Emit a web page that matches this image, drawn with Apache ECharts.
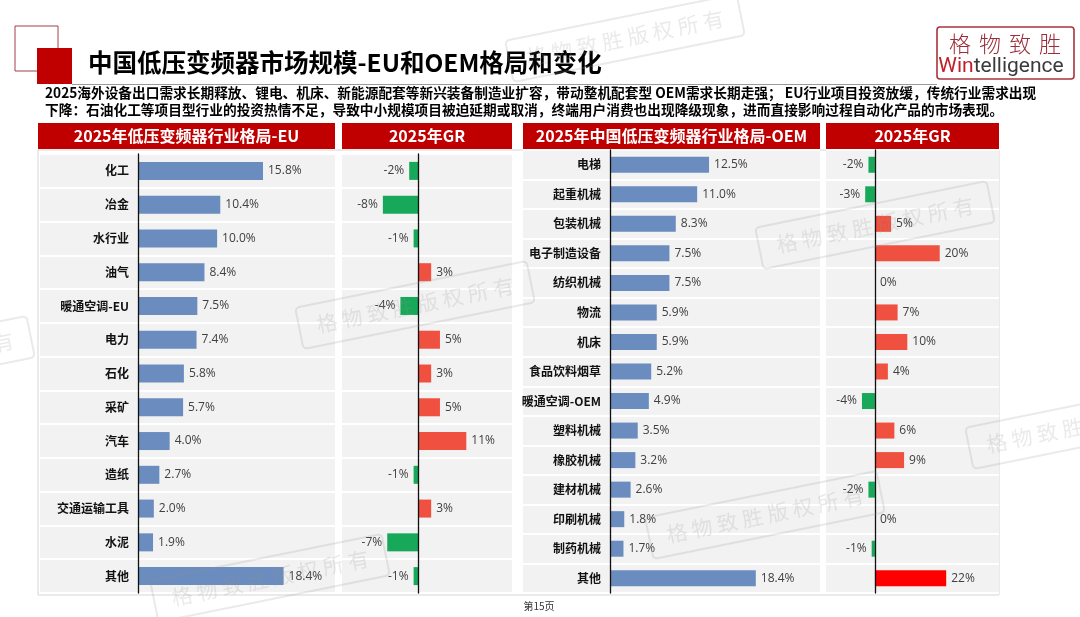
<!DOCTYPE html>
<html>
<head>
<meta charset="utf-8">
<script src="https://cdn.jsdelivr.net/npm/echarts@6/dist/echarts.min.js"></script>
<style>
html,body{margin:0;padding:0;background:#fff;}
#main{width:1080px;height:617px;}
</style>
</head>
<body>
<div id="main"></div>
<script>
// ---------- data ----------
const euCats = ['化工','冶金','水行业','油气','暖通空调-EU','电力','石化','采矿','汽车','造纸','交通运输工具','水泥','其他'];
const euShare = [15.8,10.4,10.0,8.4,7.5,7.4,5.8,5.7,4.0,2.7,2.0,1.9,18.4];
const euGR = [-2,-8,-1,3,-4,5,3,5,11,-1,3,-7,-1];

const oemCats = ['电梯','起重机械','包装机械','电子制造设备','纺织机械','物流','机床','食品饮料烟草','暖通空调-OEM','塑料机械','橡胶机械','建材机械','印刷机械','制药机械','其他'];
const oemShare = [12.5,11.0,8.3,7.5,7.5,5.9,5.9,5.2,4.9,3.5,3.2,2.6,1.8,1.7,18.4];
const oemGR = [-2,-3,5,20,0,7,10,4,-4,6,9,-2,0,-1,22];

const panelTitles = ['2025年低压变频器行业格局-EU','2025年GR','2025年中国低压变频器行业格局-OEM','2025年GR'];
const mainTitle = '中国低压变频器市场规模-EU和OEM格局和变化';
const subLines = [
  '2025海外设备出口需求长期释放、锂电、机床、新能源配套等新兴装备制造业扩容，带动整机配套型 OEM需求长期走强； EU行业项目投资放缓，传统行业需求出现',
  '下降：石油化工等项目型行业的投资热情不足，导致中小规模项目被迫延期或取消，终端用户消费也出现降级现象，进而直接影响过程自动化产品的市场表现。'
];
const pageNo = '第15页';
const watermark = '格 物 致 胜 版 权 所 有';

// ---------- styles ----------
const CJK = '"Noto Sans CJK SC","Noto Sans",sans-serif';
const NUM = '"Open Sans","Noto Sans",sans-serif';
const RED = '#C00000';
const BLUE = '#6A8CBE';
const UP = '#F0503F';
const DOWN = '#17A85A';
const HILITE = '#FF0000';

function bgCatAxis(gi, cats){
  return {
    gridIndex: gi, type: 'category', data: cats, inverse: true, z: 0,
    axisLine: {show: false}, axisTick: {show: false}, axisLabel: {show: false},
    splitArea: {show: true, interval: 0, areaStyle: {color: ['#F2F2F2']}},
    splitLine: {show: true, interval: 0, lineStyle: {color: '#FFFFFF', width: 2}}
  };
}
function dataCatAxis(gi, cats, showLabel, onZero){
  return {
    gridIndex: gi, type: 'category', data: cats, inverse: true, z: 3,
    axisLine: {show: true, onZero: onZero, lineStyle: {color: '#111', width: 1.3}},
    axisTick: {show: false},
    axisLabel: {show: showLabel, interval: 0, fontWeight: 'bold', fontSize: 12, color: '#111', margin: 9, fontFamily: CJK},
    splitArea: {show: false}, splitLine: {show: false}
  };
}
function valAxis(gi, min, max){
  return {gridIndex: gi, type: 'value', min: min, max: max, show: false};
}
const lblBase = {show: true, distance: 5, fontSize: 12, color: '#404040', fontFamily: NUM};

function shareSeries(idx, vals, bw){
  return {
    type: 'bar', xAxisIndex: idx, yAxisIndex: idx, barWidth: bw,
    data: vals, itemStyle: {color: BLUE},
    label: Object.assign({}, lblBase, {position: 'right', formatter: p => Number(p.value).toFixed(1) + '%'})
  };
}
function grSeries(idx, vals, cats, bw, hiliteCat){
  return {
    type: 'bar', xAxisIndex: idx, yAxisIndex: idx, barWidth: bw,
    data: vals.map((v, i) => ({
      value: v,
      itemStyle: {color: (hiliteCat && cats[i] === hiliteCat) ? HILITE : (v < 0 ? DOWN : UP)},
      label: {position: v < 0 ? 'left' : 'right'}
    })),
    label: Object.assign({}, lblBase, {formatter: p => p.value + '%'})
  };
}

// ---------- decorations ----------
const panels = [[38,335],[342,512],[523,820],[826,999]];
const graphic = [];
graphic.push({type:'rect', z:-10, shape:{x:38,y:150,width:961,height:445}, style:{fill:'none', stroke:'#D6D6D6', lineWidth:1}});
panels.forEach((p, i) => {
  graphic.push({type:'rect', z:5, shape:{x:p[0], y:123, width:p[1]-p[0], height:26}, style:{fill:RED}});
  graphic.push({type:'text', z:6, style:{text: panelTitles[i], x:(p[0]+p[1])/2, y:136, textAlign:'center', textVerticalAlign:'middle', fill:'#fff', fontSize:16, fontWeight:'bold', fontFamily:CJK}});
});
// title block
graphic.push({type:'rect', z:5, shape:{x:15,y:26,width:43,height:45}, style:{fill:'#fff', stroke:'#A04048', lineWidth:1}});
graphic.push({type:'rect', z:6, shape:{x:37,y:48,width:35,height:36}, style:{fill:RED}});
graphic.push({type:'line', z:5, shape:{x1:72,y1:84.5,x2:937,y2:84.5}, style:{stroke:'#9A9A9A', lineWidth:1}});
graphic.push({type:'text', z:6, style:{text: mainTitle, x:88, y:63, textVerticalAlign:'middle', fill:'#000', fontSize:24.5, fontWeight:'bold', fontFamily:CJK}});
subLines.forEach((t, i) => {
  graphic.push({type:'text', z:6, style:{text: t, x:45, y:93 + i*17, textVerticalAlign:'middle', fill:'#000', fontSize:13.7, fontWeight:'bold', fontFamily:CJK}});
});
// logo
graphic.push({type:'rect', z:6, shape:{x:937,y:27,width:137,height:52, r:3}, style:{fill:'#fff', stroke:'#A8343E', lineWidth:1.6}});
['格','物','致','胜'].forEach((c, i) => {
  graphic.push({type:'text', z:7, style:{text:c, x:960 + i*30, y:44, textAlign:'center', textVerticalAlign:'middle', fill:'#9B2D3A', fontSize:22, fontWeight:300, fontFamily:CJK}});
});
graphic.push({type:'text', z:7, style:{text:'{a|Win}{b|telligence}', x:1001, y:67, textAlign:'center', textVerticalAlign:'middle',
  rich:{a:{fill:'#C0202A', fontSize:21, fontFamily:'Roboto,"Open Sans",sans-serif'}, b:{fill:'#3A3A3A', fontSize:21, fontFamily:'Roboto,"Open Sans",sans-serif'}}}});
graphic.push({type:'text', z:6, style:{text: pageNo, x:539, y:606, textAlign:'center', textVerticalAlign:'middle', fill:'#333', fontSize:10, fontFamily:CJK}});
// watermarks
[[625,38],[415,305],[875,225],[765,515],[270,578],[1085,425],[-85,360]].forEach(w => {
  graphic.push({type:'group', x:w[0], y:w[1], rotation:0.2, z:50, silent:true, children:[
    {type:'rect', z:50, shape:{x:-118,y:-21,width:236,height:42,r:4}, style:{fill:'none', stroke:'rgba(150,150,150,0.2)', lineWidth:2}},
    {type:'text', z:50, style:{text: watermark, x:0, y:0, textAlign:'center', textVerticalAlign:'middle', fill:'rgba(150,150,150,0.2)', fontSize:21, fontFamily:CJK}}
  ]});
});

const G = (l, t, w, h) => ({left:l, top:t, width:w, height:h, containLabel:false, outerBoundsMode:'none'});
const option = {
  animation: false,
  backgroundColor: '#fff',
  grid: [
    G(40, 154, 295, 439),   // 0 EU background
    G(138, 154, 197, 439),  // 1 EU share
    G(342, 154, 170, 439),  // 2 EU GR background
    G(342, 154, 170, 439),  // 3 EU GR
    G(523, 150, 297, 443),  // 4 OEM background
    G(610, 150, 210, 443),  // 5 OEM share
    G(826, 150, 173, 443),  // 6 OEM GR background
    G(826, 150, 173, 443)   // 7 OEM GR
  ],
  xAxis: [
    valAxis(0,0,1), valAxis(1,0,24.9), valAxis(2,0,1), valAxis(3,-17.3,21.4),
    valAxis(4,0,1), valAxis(5,0,26.5), valAxis(6,0,1), valAxis(7,-15.1,38.3)
  ],
  yAxis: [
    bgCatAxis(0, euCats), dataCatAxis(1, euCats, true, false),
    bgCatAxis(2, euCats), dataCatAxis(3, euCats, false, true),
    bgCatAxis(4, oemCats), dataCatAxis(5, oemCats, true, false),
    bgCatAxis(6, oemCats), dataCatAxis(7, oemCats, false, true)
  ],
  series: [
    shareSeries(1, euShare, 18),
    grSeries(3, euGR, euCats, 18, null),
    shareSeries(5, oemShare, 16),
    grSeries(7, oemGR, oemCats, 16, '其他')
  ],
  graphic: graphic
};
const chart = echarts.init(document.getElementById('main'), null, {renderer:'canvas'});
chart.setOption(option);
</script>
</body>
</html>
